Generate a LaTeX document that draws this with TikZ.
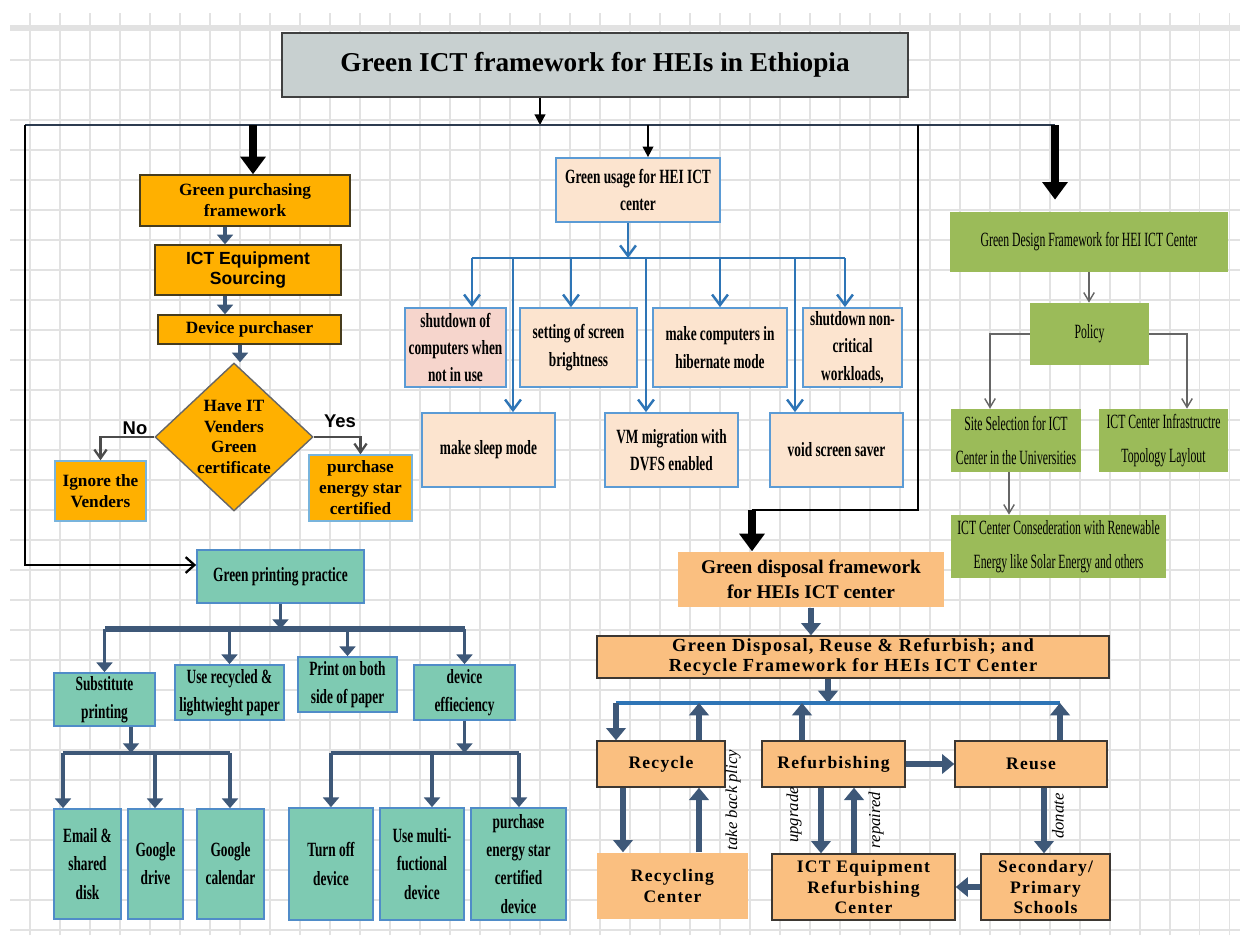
\documentclass[tikz,border=0pt]{standalone}
\usepackage{fontspec}
\usetikzlibrary{arrows.meta,shapes.geometric}
\setmainfont{Liberation Serif}
\setsansfont{Liberation Sans}
\newfontfamily\narrowfont[FakeStretch=0.66]{Liberation Serif}
\newfontfamily\designfont[FakeStretch=0.58]{Liberation Serif}
\newfontfamily\widefont[LetterSpace=7]{Liberation Serif}

\definecolor{titlegray}{RGB}{200,208,208}
\definecolor{purchorange}{RGB}{255,176,0}
\definecolor{purchedge}{RGB}{70,60,30}
\definecolor{lightedge}{RGB}{120,180,220}
\definecolor{usagepeach}{RGB}{252,228,207}
\definecolor{usagepink}{RGB}{246,213,204}
\definecolor{usageedge}{RGB}{91,155,213}
\definecolor{usageblue}{RGB}{46,117,182}
\definecolor{designgreen}{RGB}{155,187,89}
\definecolor{printteal}{RGB}{126,202,178}
\definecolor{printedge}{RGB}{80,140,200}
\definecolor{arrowsteel}{RGB}{62,88,120}
\definecolor{dispoorange}{RGB}{250,191,128}
\definecolor{dispoedge}{RGB}{60,55,50}
\definecolor{busnavy}{RGB}{45,60,80}
\definecolor{gridgray}{RGB}{226,226,226}

\begin{document}
\begin{tikzpicture}[x=0.02cm,y=-0.02cm,
 gridline/.style ={draw=gridgray,line width=0.8pt},
 titlebox/.style ={draw=black!75,fill=titlegray,line width=1.2pt,inner sep=0pt,
   font=\bfseries\fontsize{15.5}{18}\selectfont},
 purchbox/.style ={draw=purchedge,fill=purchorange,line width=0.8pt,inner sep=0pt,align=center,
   font=\bfseries\fontsize{9.8}{12}\selectfont},
 vendbox/.style ={purchbox,draw=lightedge},
 usagebox/.style ={draw=usageedge,fill=usagepeach,line width=1pt,inner sep=0pt,align=center,
   font=\narrowfont\bfseries\fontsize{11.5}{15.5}\selectfont},
 designbox/.style ={fill=designgreen,inner sep=0pt,align=center,
   font=\designfont\fontsize{11.5}{19}\selectfont},
 printbox/.style ={draw=printedge,fill=printteal,line width=1pt,inner sep=0pt,align=center,
   font=\narrowfont\bfseries\fontsize{11.5}{16}\selectfont},
 dispobox/.style ={draw=dispoedge,fill=dispoorange,line width=0.8pt,inner sep=0pt,align=center,
   font=\widefont\bfseries\fontsize{10}{11.5}\selectfont},
 plaindispo/.style ={dispobox,draw=none},
 yesno/.style ={font=\sffamily\bfseries\fontsize{10.5}{12}\selectfont},
 turnlabel/.style ={inner sep=0pt,font=\itshape\fontsize{9.5}{11}\selectfont},
 busline/.style ={-,draw=busnavy,line width=1.5pt},
 blackline/.style ={-,draw=black,line width=1.3pt},
 bigarrow/.style ={-{Triangle[length=10pt,width=14pt]},draw=black,line width=4.5pt},
 thinarrow/.style ={-{Triangle[length=6pt,width=6pt]},draw=black,line width=1.2pt},
 openarrow/.style ={-{Straight Barb[length=5pt,width=9pt]},draw=black,line width=1.3pt},
 steelarrow/.style ={-{Triangle[length=5.5pt,width=9pt]},draw=arrowsteel,line width=2.2pt},
 steelline/.style ={-,draw=arrowsteel,line width=2.2pt},
 blueline/.style ={-,draw=usageblue,line width=1.5pt},
 bluearrow/.style ={-{Straight Barb[length=6pt,width=9pt]},draw=usageblue,line width=1.4pt},
 grayarrow/.style ={-{Straight Barb[length=5pt,width=6pt]},draw=black!60,line width=0.8pt},
 vendarrow/.style ={-{Straight Barb[length=5pt,width=7pt]},draw=black!70,line width=1.3pt},
 dispoarrow/.style ={-{Triangle[length=7pt,width=11pt]},draw=arrowsteel,line width=3pt}
 ]
\useasboundingbox (0,0) rectangle (1240,940);
\fill[white] (0,0) rectangle (1240,940);
%draw background grid
\draw[gridline,step=0.6cm] (10,13) grid (1240,935);
\draw[gridline,line width=2.5pt] (10,27) -- (1240,27);

%draw title
\node[titlebox,minimum width=12.52cm,minimum height=1.28cm] (title) at (595,65) {Green ICT framework for HEIs in Ethiopia};

%draw green purchasing framework
\node[purchbox,minimum width=4.2cm,minimum height=1.02cm] (gpf) at (245,200.5) {Green purchasing\\framework};
\node[purchbox,font=\sffamily\bfseries\fontsize{10}{11.5}\selectfont,minimum width=3.72cm,minimum height=1cm] (ices) at (248,270) {ICT Equipment\\Sourcing};
\node[purchbox,minimum width=3.66cm,minimum height=0.58cm] (dp) at (249.5,329.5) {Device purchaser};
\node[purchbox,shape=diamond,draw=black!60,aspect=1.07,minimum width=3.16cm,minimum height=2.96cm,
  font=\bfseries\fontsize{9.8}{11.6}\selectfont] (dia) at (234,437) {Have IT\\Venders\\Green\\certificate};
\node[vendbox,minimum width=1.82cm,minimum height=1.2cm] (ign) at (100.5,491) {Ignore the\\Venders};
\node[vendbox,minimum width=2.06cm,minimum height=1.32cm] (pes) at (360.5,488) {purchase\\energy star\\certified};
\node[yesno] (no) at (135,428) {No};
\node[yesno] (yes) at (340,421) {Yes};

%draw green usage
\node[usagebox,minimum width=3.28cm,minimum height=1.28cm] (gu) at (638,190) {Green usage for HEI ICT\\center};
\node[usagebox,fill=usagepink,minimum width=2.02cm,minimum height=1.58cm] (u1) at (455.5,347.5) {shutdown of\\computers when\\not in use};
\node[usagebox,minimum width=2.34cm,minimum height=1.58cm] (u2) at (578.5,347.5) {setting of screen\\brightness};
\node[usagebox,minimum width=2.68cm,minimum height=1.58cm] (u3) at (720,347.5) {make computers in\\hibernate mode};
\node[usagebox,minimum width=1.98cm,minimum height=1.58cm] (u4) at (852.5,347.5) {shutdown non-\\critical\\workloads,};
\node[usagebox,minimum width=2.66cm,minimum height=1.48cm] (u5) at (488.5,450) {make sleep mode};
\node[usagebox,minimum width=2.66cm,minimum height=1.48cm] (u6) at (671.5,450) {VM migration with\\DVFS enabled};
\node[usagebox,minimum width=2.66cm,minimum height=1.48cm] (u7) at (836.5,450) {void screen saver};

%draw green design
\node[designbox,minimum width=5.56cm,minimum height=1.2cm] (gd) at (1089,242) {Green Design Framework for HEI ICT Center};
\node[designbox,minimum width=2.38cm,minimum height=1.24cm] (pol) at (1089.5,334) {Policy};
\node[designbox,minimum width=2.6cm,minimum height=1.26cm] (site) at (1016,440.5) {Site Selection for ICT\\Center in the Universities};
\node[designbox,minimum width=2.58cm,minimum height=1.26cm] (infra) at (1163.5,440.5) {ICT Center Infrastructre\\Topology Laylout};
\node[designbox,minimum width=4.3cm,minimum height=1.26cm] (cons) at (1058.5,546.5) {ICT Center Consederation with Renewable\\Energy like Solar Energy and others};

%draw green printing
\node[printbox,minimum width=3.34cm,minimum height=1.06cm] (gp) at (280.5,576.5) {Green printing practice};
\node[printbox,minimum width=2.02cm,minimum height=1.06cm] (s1) at (104.5,699.5) {Substitute\\printing};
\node[printbox,minimum width=2.18cm,minimum height=1.1cm] (s2) at (229.5,692.5) {Use recycled \&\\lightwieght paper};
\node[printbox,minimum width=1.98cm,minimum height=1.1cm] (s3) at (347.5,684.5) {Print on both\\side of paper};
\node[printbox,minimum width=2.02cm,minimum height=1.1cm] (s4) at (464.5,692.5) {device\\effieciency};
\node[printbox,minimum width=1.34cm,minimum height=2.2cm] (t1) at (87.5,864) {Email \&\\shared\\disk};
\node[printbox,minimum width=1.1cm,minimum height=2.2cm] (t2) at (155.5,864) {Google\\drive};
\node[printbox,minimum width=1.34cm,minimum height=2.2cm] (t3) at (230.5,864) {Google\\calendar};
\node[printbox,minimum width=1.68cm,minimum height=2.24cm] (d1) at (331,864) {Turn off\\device};
\node[printbox,minimum width=1.68cm,minimum height=2.24cm] (d2) at (422,864) {Use multi-\\fuctional\\device};
\node[printbox,minimum width=1.9cm,minimum height=2.24cm] (d3) at (518.5,864) {purchase\\energy star\\certified\\device};

%draw green disposal
\node[plaindispo,font=\bfseries\fontsize{11}{14}\selectfont,minimum width=5.32cm,minimum height=1.1cm] (gdf) at (811,579.5) {Green disposal framework\\for HEIs ICT center};
\node[dispobox,font=\widefont\bfseries\fontsize{10.5}{11.5}\selectfont,minimum width=10.24cm,minimum height=0.84cm] (rrr) at (853,657) {Green Disposal, Reuse \& Refurbish; and\\Recycle Framework for HEIs ICT Center};
\node[dispobox,minimum width=2.56cm,minimum height=0.92cm] (r1) at (661,764) {Recycle};
\node[dispobox,minimum width=2.86cm,minimum height=0.92cm] (r2) at (833.5,764) {Refurbishing};
\node[dispobox,minimum width=3.04cm,minimum height=0.92cm] (r3) at (1031,764) {Reuse};
\node[plaindispo,minimum width=3.02cm,minimum height=1.32cm] (q1) at (672.5,886) {Recycling\\Center};
\node[dispobox,minimum width=3.66cm,minimum height=1.32cm] (q2) at (863.5,887) {ICT Equipment\\Refurbishing\\Center};
\node[dispobox,minimum width=2.58cm,minimum height=1.32cm] (q3) at (1045.5,887) {Secondary/\\Primary\\Schools};
\node[turnlabel,rotate=90] (ltake) at (733,800) {take back plicy};
\node[turnlabel,rotate=90] (lupg) at (794,815) {upgrade};
\node[turnlabel,rotate=90] (lrep) at (876,820) {repaired};
\node[turnlabel,rotate=90] (ldon) at (1058,816) {donate};

%draw main bus
\coordinate (busL) at (25,125);
\coordinate (busM) at (918,125);
\coordinate (busR) at (1055,125);
\coordinate (dturn) at (752,510);
\draw[thinarrow] ([xshift=-1.1cm]title.south) -- ([xshift=-1.1cm]title.south |- busL);
\draw[busline] (busL) -- (busR);
\draw[blackline] (busM) |- (dturn);
\draw[openarrow] (busL) |- ([yshift=0.23cm]gp.west);
\draw[bigarrow] ([xshift=0.16cm]gpf.north |- busL) -- ([xshift=0.16cm]gpf.north);
\draw[thinarrow] ([xshift=0.2cm]gu.north |- busL) -- ([xshift=0.2cm]gu.north);
\draw[bigarrow,shorten >=0.24cm] (busR) -- (busR |- gd.north);
\draw[bigarrow] (dturn) -- (dturn |- gdf.north);

%draw purchasing arrows
\draw[steelarrow] ([xshift=-0.4cm]gpf.south) -- ([xshift=-0.4cm]gpf.south |- ices.north);
\draw[steelarrow] ([xshift=-0.46cm]ices.south) -- ([xshift=-0.46cm]ices.south |- dp.north);
\draw[steelarrow] ([xshift=-0.19cm]dp.south) -- ([xshift=-0.19cm]dp.south |- dia.north);
\draw[vendarrow] (dia.west) -| (ign.north);
\draw[vendarrow] (dia.east) -| (pes.north);

%draw usage arrows
\coordinate (ubusL) at (472,258);
\coordinate (ubusR) at (845,258);
\draw[bluearrow] ([xshift=-0.2cm]gu.south) -- ([xshift=-0.2cm]gu.south |- ubusL);
\draw[blueline] (ubusL) -- (ubusR);
\foreach \px/\tgt in {472/u1,513/u5,571/u2,646/u6,720/u3,795/u7,845/u4}
  \draw[bluearrow] (\px,258) -- (\px,258 |- \tgt.north);

%draw design arrows
\draw[grayarrow] (gd.south) -- (gd.south |- pol.north);
\draw[grayarrow] (pol.west) -| ([xshift=-0.52cm]site.north);
\draw[grayarrow] (pol.east) -| ([xshift=0.47cm]infra.north);
\draw[grayarrow] ([xshift=-0.14cm]site.south) -- ([xshift=-0.14cm]site.south |- cons.north);

%draw printing arrows
\coordinate (pbusL) at (105,629);
\coordinate (pbusR) at (465,629);
\draw[steelarrow] (gp.south) -- (gp.south |- pbusL);
\draw[steelline,line width=3.2pt] (pbusL) -- (pbusR);
\foreach \tgt in {s1,s2,s3,s4}
  \draw[steelarrow] (\tgt.north |- pbusL) -- (\tgt.north);
\coordinate (sbusL) at (63,753);
\coordinate (sbusR) at (230,753);
\draw[steelarrow] ([xshift=0.53cm]s1.south) -- ([xshift=0.53cm]s1.south |- sbusL);
\draw[steelline] (sbusL) -- (sbusR);
\foreach \px/\tgt in {63/t1,155/t2,230/t3}
  \draw[steelarrow] (\px,753) -- (\px,753 |- \tgt.north);
\coordinate (dbusL) at (331,753);
\coordinate (dbusR) at (519,753);
\draw[steelarrow] (s4.south) -- (s4.south |- dbusL);
\draw[steelline] (dbusL) -- (dbusR);
\foreach \px/\tgt in {331/d1,432/d2,519/d3}
  \draw[steelarrow] (\px,753) -- (\px,753 |- \tgt.north);

%draw disposal arrows
\coordinate (xbusL) at (616,703);
\coordinate (xbusR) at (1060,703);
\draw[dispoarrow] (gdf.south) -- (gdf.south |- rrr.north);
\draw[dispoarrow] ([xshift=-0.5cm]rrr.south) -- ([xshift=-0.5cm]rrr.south |- xbusL);
\draw[blueline,line width=2pt] (xbusL) -- (xbusR);
\draw[dispoarrow] (xbusL) -- (xbusL |- r1.north);
\draw[dispoarrow] (699,703 |- r1.north) -- (699,703);
\draw[dispoarrow] (802,703 |- r2.north) -- (802,703);
\draw[dispoarrow] (xbusR |- r3.north) -- (xbusR);
\draw[dispoarrow] (623,0 |- r1.south) -- (623,0 |- q1.north);
\draw[dispoarrow] (699,0 |- q1.north) -- (699,0 |- r1.south);
\draw[dispoarrow] (821,0 |- r2.south) -- (821,0 |- q2.north);
\draw[dispoarrow] (854,0 |- q2.north) -- (854,0 |- r2.south);
\draw[dispoarrow] (1044,0 |- r3.south) -- (1044,0 |- q3.north);
\draw[dispoarrow] (r2.east) -- (r3.west);
\draw[dispoarrow] (q3.west) -- (q2.east);
\end{tikzpicture}
\end{document}
